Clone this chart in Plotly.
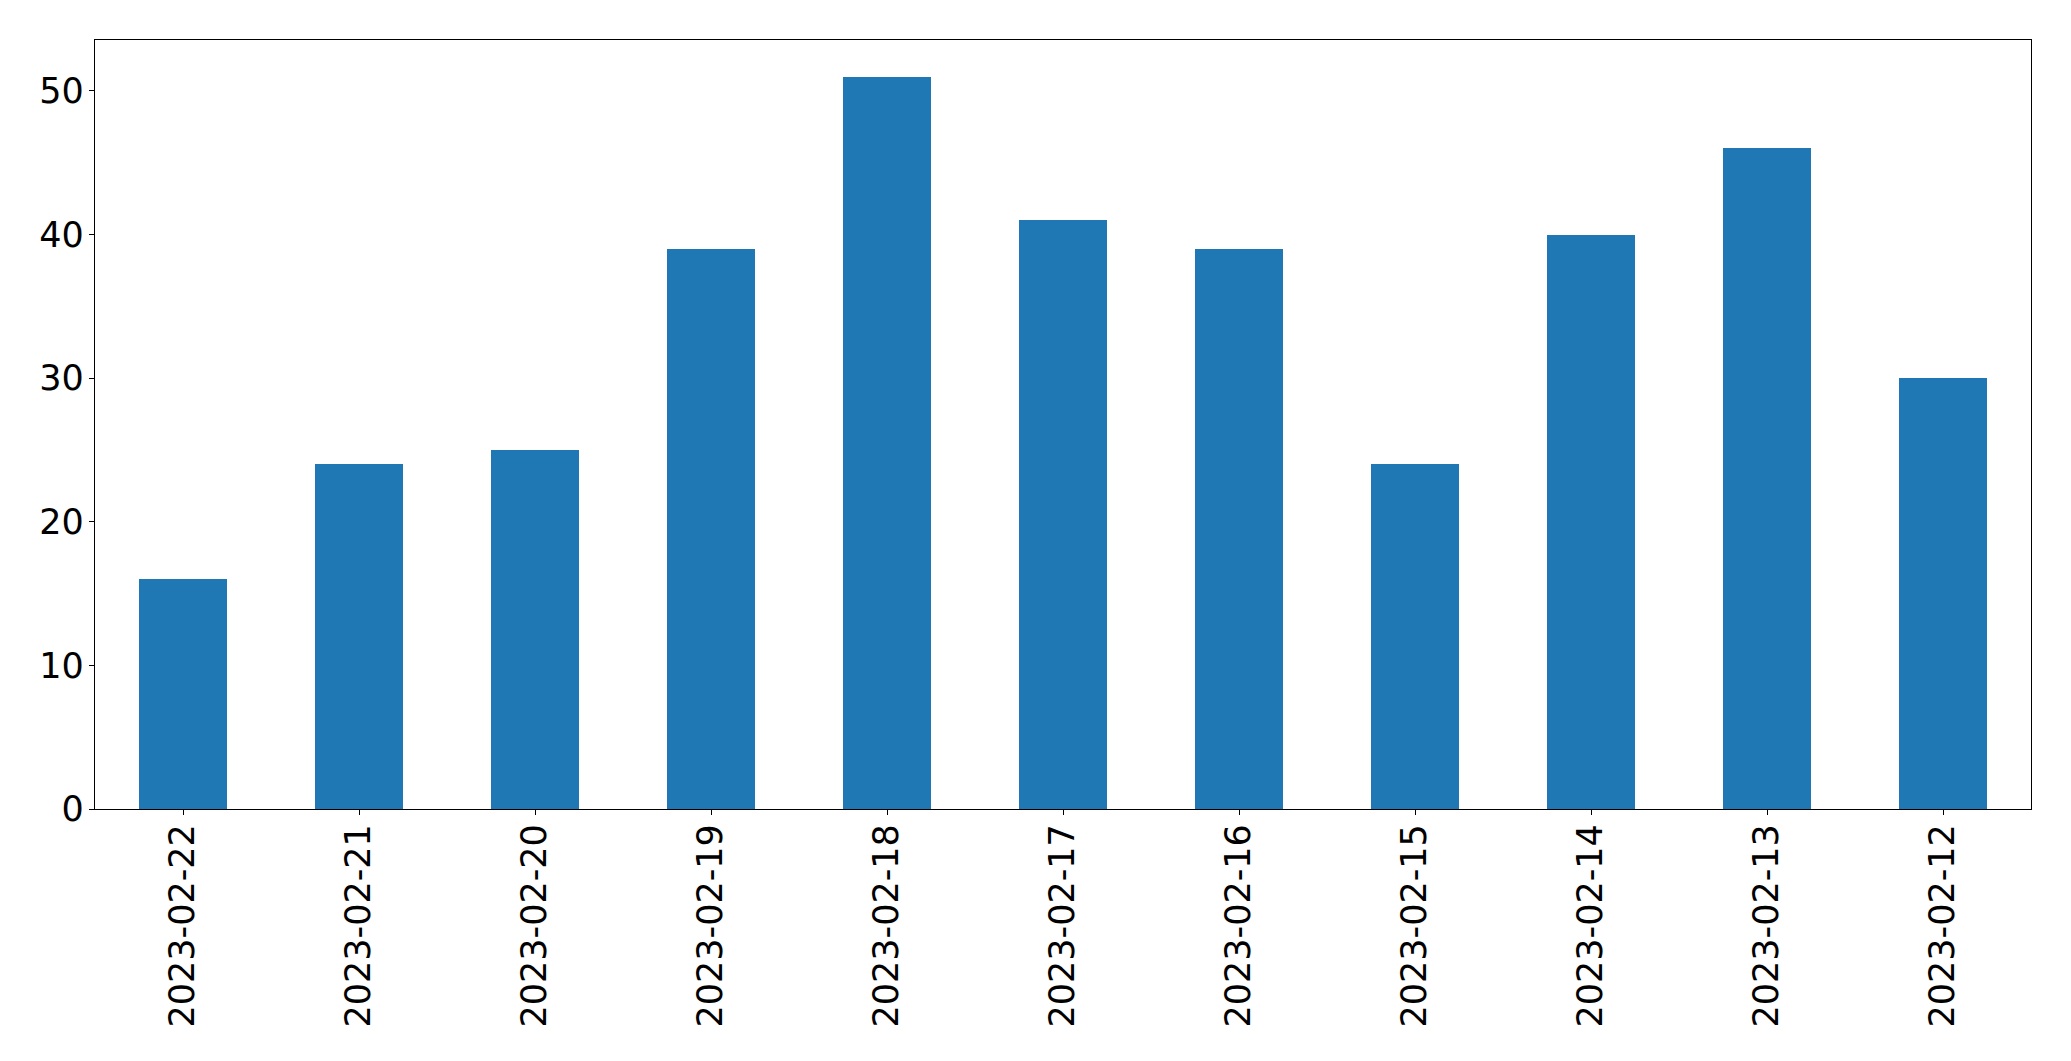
import plotly.graph_objects as go

dates = ["2023-02-22", "2023-02-21", "2023-02-20", "2023-02-19", "2023-02-18",
         "2023-02-17", "2023-02-16", "2023-02-15", "2023-02-14", "2023-02-13", "2023-02-12"]
counts = [16, 24, 25, 39, 51, 41, 39, 24, 40, 46, 30]
y_ticks = [0, 10, 20, 30, 40, 50]

fig = go.Figure(go.Bar(x=dates, y=counts, width=0.5, marker=dict(color="#1f77b4", line=dict(width=0))))

font = dict(family="DejaVu Sans", size=35, color="black")
fig.update_layout(
    width=2071, height=1061,
    margin=dict(l=94.5, r=39.5, t=39.5, b=252, autoexpand=False),
    paper_bgcolor="white", plot_bgcolor="white",
    showlegend=False,
    bargap=0,
)
fig.update_xaxes(type="category", range=[-0.5, 10.5], tickangle=-90, tickfont=font,
                 showline=True, linecolor="black", linewidth=1.3, mirror=True,
                 ticks="outside", ticklen=5, tickwidth=1.3, tickcolor="black",
                 showgrid=False, zeroline=False, ticklabelstandoff=-5)
fig.update_yaxes(range=[0, 53.55], tickvals=y_ticks, tickfont=font,
                 showline=True, linecolor="black", linewidth=1.3, mirror=True,
                 ticks="outside", ticklen=5, tickwidth=1.3, tickcolor="black",
                 showgrid=False, zeroline=False, ticklabelstandoff=-2)

fig.write_html("out.html", config={"displayModeBar": False},
               post_script="document.body.style.margin='0';document.body.style.overflow='hidden';")
